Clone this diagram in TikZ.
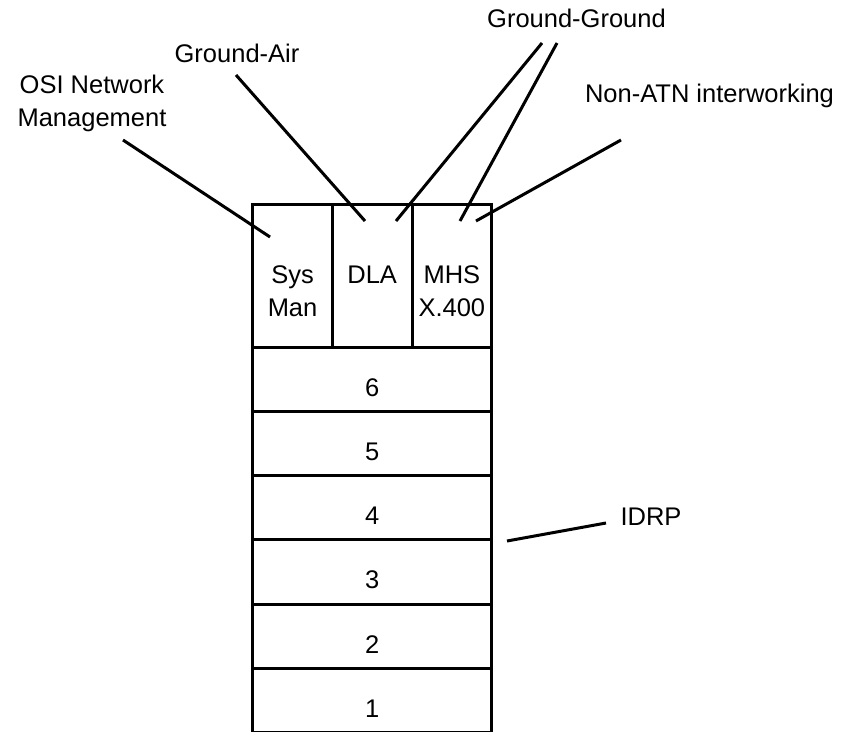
\documentclass[tikz,border=0pt]{standalone}
\usepackage{fontspec}
\setmainfont{Liberation Sans}
\tikzset{
  stack-layer/.style={draw=black, line width=3pt, minimum width=239pt, minimum height=64.3pt, inner sep=0pt},
  stack-cell/.style={draw=black, line width=3pt, minimum width=79.67pt, minimum height=143pt, inner sep=0pt},
  stack-text/.style={font=\fontsize{25.5}{33}\selectfont, inner sep=0pt, align=center, anchor=base},
  stack-lead/.style={draw=black, line width=3pt}
}

\begin{document}
\begin{tikzpicture}[x=1pt, y=-1pt]
  \useasboundingbox (0,0) rectangle (851,731);
  % upper cells
  \node[stack-cell] (sysman) at (292.55,275.5) {};
  \node[stack-cell] (dla) at (372.2,275.5) {};
  \node[stack-cell] (mhs) at (451.85,275.5) {};
  % base = last line
  \node[stack-text] (sysman-txt) at (292.55,316.5) {Sys\\Man};
  \node[stack-text] (dla-txt) at (372.2,283.3) {DLA};
  \node[stack-text] (mhs-txt) at (451.85,316.5) {MHS\\X.400};
  % layers 6 .. 1
  \foreach \n [count=\i] in {6,5,4,3,2,1} {
    \node[stack-layer] (layer\n) at (372.2,{347+64.3*(\i-0.5)}) {};
    \node[stack-text] (num\n) at (372.2,{347+64.3*(\i-1)+49}) {\n};
  }
  % labels
  \node[stack-text] (osi) at (92,126) {OSI Network\\Management};
  \node[stack-text] (ga) at (237,62) {Ground-Air};
  \node[stack-text] (gg) at (576.5,27) {Ground-Ground};
  \node[stack-text] (nonatn) at (709.5,102) {Non-ATN interworking};
  \node[stack-text] (idrp) at (651,525) {IDRP};
  % leader lines
  \coordinate (osi-out) at (123,140);  \coordinate (osi-in) at (270,237);
  \coordinate (ga-out) at (236,75);    \coordinate (ga-in) at (365,221);
  \coordinate (gg-out1) at (542,43);   \coordinate (gg-in1) at (396,221);
  \coordinate (gg-out2) at (557,43);   \coordinate (gg-in2) at (460,221);
  \coordinate (nonatn-out) at (621,140); \coordinate (nonatn-in) at (476,221);
  \coordinate (idrp-out) at (606,523); \coordinate (idrp-in) at (507,541);
  \draw[stack-lead] (osi-out) -- (osi-in);
  \draw[stack-lead] (ga-out) -- (ga-in);
  \draw[stack-lead] (gg-out1) -- (gg-in1);
  \draw[stack-lead] (gg-out2) -- (gg-in2);
  \draw[stack-lead] (nonatn-out) -- (nonatn-in);
  \draw[stack-lead] (idrp-out) -- (idrp-in);
\end{tikzpicture}
\end{document}
